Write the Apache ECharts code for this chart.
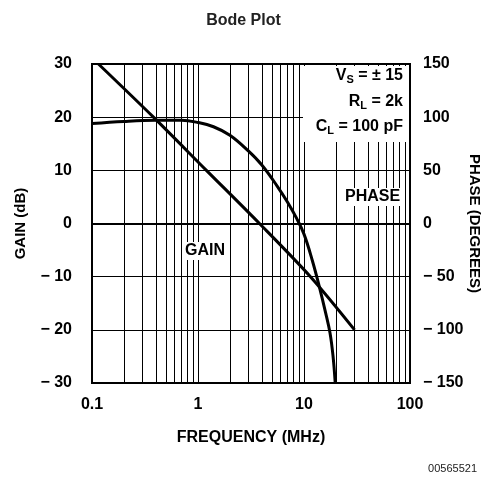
<!DOCTYPE html>
<html>
<head>
<meta charset="utf-8">
<script src="https://cdn.jsdelivr.net/npm/echarts@6/dist/echarts.min.js"></script>
<style>
  html, body { margin: 0; padding: 0; background: #fff; }
  #chart { width: 487px; height: 481px; }
</style>
</head>
<body>
<div id="chart"></div>
<script>
// frequency (MHz) / gain (dB)
const gainFreq = [0.115, 0.38, 1.2, 3.8, 11.5, 30]
const gainDb = [30, 20, 10, 0, -10, -20]
// frequency (MHz) / phase (degrees)
const phaseFreq = [0.1, 0.2, 0.4, 0.7, 1, 1.4, 2, 3, 4, 5.6, 7, 8.5, 10, 12, 14, 16, 17.6, 18.8, 19.7]
const phaseDeg = [94, 96, 97, 97, 95, 91, 83, 68, 55, 35, 20, 5, -10, -35, -60, -84, -103, -125, -150]
// vertical grid lines of the log paper
const gridFreqs = [0.2, 0.3, 0.4, 0.5, 0.6, 0.7, 0.8, 0.9, 1, 2, 3, 4, 5, 6, 7, 8, 9, 10, 20, 30, 40, 50, 60, 70, 80, 90]

const narrow = '"Liberation Sans Narrow", "Liberation Sans", Arial, sans-serif'
const minusFmt = v => (v < 0 ? '\u2212 ' + Math.abs(v) : String(v))
const subRich = { s: { fontSize: 11, fontWeight: 'bold', fontFamily: narrow, padding: [7, 0, 0, 0] } }

const chart = echarts.init(document.getElementById('chart'))
chart.setOption({
  animation: false,
  backgroundColor: '#fff',
  grid: {
    left: 92,
    right: 77,
    top: 64,
    bottom: 98,
    outerBoundsMode: 'none',
    containLabel: false,
    show: true,
    borderColor: '#000',
    borderWidth: 2
  },
  title: {
    text: 'Bode Plot',
    left: 'center',
    top: 8,
    textStyle: { fontFamily: '"Liberation Sans", Arial, sans-serif', fontWeight: 'bold', fontSize: 16, color: '#222' }
  },
  xAxis: {
    type: 'log',
    logBase: 10,
    min: 0.1,
    max: 100,
    axisLine: { show: true, lineStyle: { color: '#000', width: 2 } },
    axisTick: { show: false },
    splitLine: { show: false },
    axisLabel: {
      color: '#000',
      fontFamily: narrow,
      fontWeight: 'bold',
      fontSize: 16,
      margin: 14,
      formatter: v => String(v)
    },
    name: 'FREQUENCY (MHz)',
    nameLocation: 'middle',
    nameGap: 47,
    nameMoveOverlap: false,
    nameTextStyle: { color: '#000', fontFamily: narrow, fontWeight: 'bold', fontSize: 16 }
  },
  yAxis: [
    {
      type: 'value',
      min: -30,
      max: 30,
      interval: 10,
      axisLine: { show: true, lineStyle: { color: '#000', width: 2 } },
      axisTick: { show: false },
      splitLine: { show: true, lineStyle: { color: '#000', width: 1 } },
      axisLabel: { color: '#000', fontFamily: narrow, fontWeight: 'bold', fontSize: 16, margin: 20, formatter: minusFmt },
      name: 'GAIN (dB)',
      nameLocation: 'middle',
      nameGap: 64,
      nameRotate: 90,
      nameMoveOverlap: false,
      nameTextStyle: { color: '#000', fontFamily: narrow, fontWeight: 'bold', fontSize: 15 }
    },
    {
      type: 'value',
      min: -150,
      max: 150,
      interval: 50,
      position: 'right',
      axisLine: { show: true, lineStyle: { color: '#000', width: 2 } },
      axisTick: { show: false },
      splitLine: { show: false },
      axisLabel: { color: '#000', fontFamily: narrow, fontWeight: 'bold', fontSize: 16, margin: 13, formatter: minusFmt },
      name: 'PHASE (DEGREES)',
      nameLocation: 'middle',
      nameGap: 57,
      nameRotate: -90,
      nameMoveOverlap: false,
      nameTextStyle: { color: '#000', fontFamily: narrow, fontWeight: 'bold', fontSize: 15 }
    }
  ],
  series: [
    {
      name: 'gain',
      type: 'line',
      yAxisIndex: 0,
      data: gainFreq.map((f, i) => [f, gainDb[i]]),
      showSymbol: false,
      smooth: 0.3,
      lineStyle: { color: '#000', width: 3 },
      markLine: {
        silent: true,
        symbol: 'none',
        label: { show: false },
        lineStyle: { color: '#000', width: 1, type: 'solid' },
        data: gridFreqs.map(f => ({ xAxis: f }))
      },
      z: 3
    },
    {
      name: 'phase',
      type: 'line',
      yAxisIndex: 1,
      data: phaseFreq.map((f, i) => [f, phaseDeg[i]]),
      showSymbol: false,
      smooth: 0.4,
      lineStyle: { color: '#000', width: 3 },
      z: 3
    }
  ],
  graphic: [
    {
      // blank area behind the conditions note
      type: 'rect',
      left: 303,
      top: 66,
      z: 9,
      shape: { width: 106, height: 76 },
      style: { fill: '#fff' }
    },
    {
      type: 'text',
      right: 84,
      top: 68,
      z: 10,
      style: { text: 'V{s|S} = \u00b1 15', fill: '#000', font: 'bold 16px ' + narrow, rich: subRich }
    },
    {
      type: 'text',
      right: 84,
      top: 94,
      z: 10,
      style: { text: 'R{s|L} = 2k', fill: '#000', font: 'bold 16px ' + narrow, rich: subRich }
    },
    {
      type: 'text',
      right: 84,
      top: 119,
      z: 10,
      style: { text: 'C{s|L} = 100 pF', fill: '#000', font: 'bold 16px ' + narrow, rich: subRich }
    },
    {
      type: 'text',
      left: 343,
      top: 188,
      z: 10,
      style: { text: 'PHASE', fill: '#000', backgroundColor: '#fff', padding: [1, 2], font: 'bold 16px ' + narrow }
    },
    {
      type: 'text',
      left: 183,
      top: 242,
      z: 10,
      style: { text: 'GAIN', fill: '#000', backgroundColor: '#fff', padding: [1, 2], font: 'bold 16px ' + narrow }
    },
    {
      type: 'text',
      right: 10,
      top: 463,
      style: { text: '00565521', fill: '#222', font: '11px "Liberation Sans", Arial, sans-serif' }
    }
  ]
})
</script>
</body>
</html>
